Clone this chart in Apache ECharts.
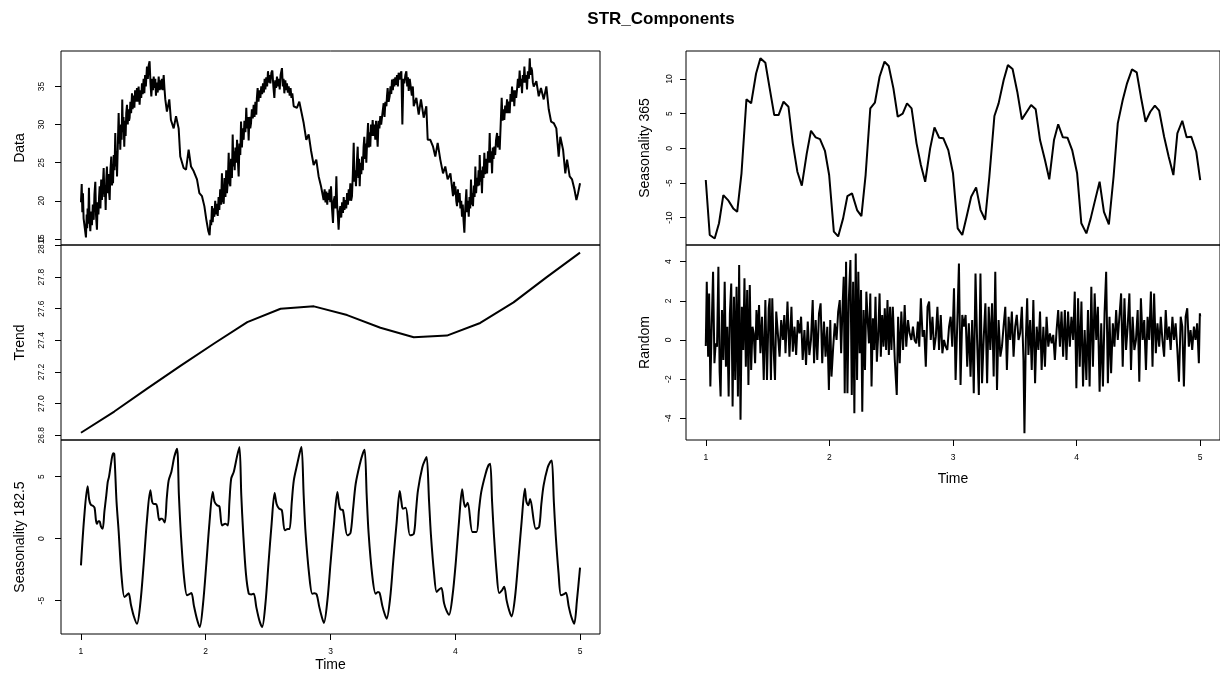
<!DOCTYPE html>
<html>
<head>
<meta charset="utf-8">
<script src="https://cdn.jsdelivr.net/npm/echarts@6/dist/echarts.min.js"></script>
<style>
html,body{margin:0;padding:0;background:#fff;}
#chart{width:1220px;height:682px;}
</style>
</head>
<body>
<div id="chart"></div>
<script>
// ---------- tick labels ----------
const timeTicks = [1, 2, 3, 4, 5];
const dataTicks = [15, 20, 25, 30, 35];
const trendTicks = [26.8, 27.0, 27.2, 27.4, 27.6, 27.8, 28.0];
const seas182Ticks = [-5, 0, 5];
const seas365Ticks = [-10, -5, 0, 5, 10];
const randomTicks = [-4, -2, 0, 2, 4];

// ---------- series values [time, value] ----------
const dataSeries = [
[1.000,19.8],[1.006,22.2],[1.011,18.5],[1.016,21.0],[1.021,17.7],[1.030,16.5],[1.040,15.2],[1.046,18.2],[1.050,16.4],[1.053,19.0],
[1.058,17.0],[1.064,21.7],[1.069,17.5],[1.075,16.0],[1.082,18.6],[1.088,16.8],[1.095,19.5],[1.102,17.5],[1.108,20.8],[1.115,22.5],
[1.121,18.0],[1.128,16.2],[1.134,19.8],[1.140,18.2],[1.145,20.5],[1.150,21.9],[1.156,19.0],[1.162,22.8],[1.168,20.1],[1.175,22.0],
[1.182,24.3],[1.188,20.5],[1.193,22.0],[1.198,18.8],[1.203,22.8],[1.208,24.5],[1.214,21.0],[1.220,23.5],[1.225,21.2],[1.230,20.1],
[1.236,24.0],[1.243,25.8],[1.249,22.0],[1.253,24.8],[1.257,22.3],[1.263,26.0],[1.269,24.0],[1.275,28.9],[1.280,24.5],[1.285,26.5],
[1.289,23.2],[1.295,27.0],[1.302,31.5],[1.308,27.5],[1.312,29.5],[1.315,26.7],[1.321,30.0],[1.326,28.0],[1.331,33.3],[1.336,29.0],
[1.341,31.0],[1.347,27.1],[1.353,30.5],[1.358,28.5],[1.363,31.5],[1.369,32.6],[1.375,30.0],[1.380,32.0],[1.385,30.5],[1.390,30.9],
[1.396,33.0],[1.402,31.5],[1.409,34.1],[1.414,32.0],[1.420,33.8],[1.428,32.2],[1.434,34.5],[1.440,33.0],[1.449,34.8],[1.455,33.0],
[1.462,35.0],[1.470,32.6],[1.476,34.5],[1.483,33.5],[1.489,35.4],[1.495,34.0],[1.502,36.0],[1.508,34.1],[1.514,36.5],[1.520,35.0],
[1.529,37.6],[1.536,36.0],[1.543,37.8],[1.550,38.3],[1.557,35.5],[1.564,33.7],[1.572,36.0],[1.578,34.5],[1.583,36.3],[1.590,34.8],
[1.596,36.0],[1.601,33.8],[1.608,35.5],[1.615,34.2],[1.623,36.3],[1.630,34.5],[1.636,35.8],[1.641,34.6],[1.648,36.0],[1.655,34.5],
[1.663,36.5],[1.669,34.8],[1.676,33.3],[1.689,31.7],[1.708,33.3],[1.721,30.6],[1.743,29.5],[1.762,31.1],[1.783,29.5],[1.796,25.8],
[1.823,24.3],[1.842,24.1],[1.863,26.7],[1.882,24.5],[1.903,23.9],[1.930,22.8],[1.949,21.0],[1.970,20.6],[1.989,19.3],[2.005,17.5],
[2.021,16.0],[2.031,15.5],[2.038,17.5],[2.044,16.8],[2.050,19.3],[2.056,17.2],[2.062,19.0],[2.069,17.9],[2.076,20.0],[2.083,18.2],
[2.090,19.6],[2.096,18.0],[2.103,20.5],[2.109,18.8],[2.116,21.5],[2.123,19.5],[2.130,23.6],[2.137,20.2],[2.144,19.6],[2.151,23.0],
[2.158,20.5],[2.164,24.0],[2.170,21.0],[2.177,22.5],[2.184,26.3],[2.190,22.5],[2.197,21.9],[2.203,25.5],[2.210,23.0],[2.216,28.7],
[2.222,24.5],[2.227,26.5],[2.232,24.0],[2.238,27.0],[2.245,25.0],[2.251,28.0],[2.257,25.5],[2.264,23.2],[2.270,27.5],[2.277,26.0],
[2.283,30.4],[2.290,27.0],[2.297,29.5],[2.304,28.0],[2.310,30.5],[2.318,29.0],[2.325,32.2],[2.331,29.5],[2.338,31.0],[2.344,27.9],
[2.350,31.0],[2.357,29.5],[2.363,30.2],[2.370,32.0],[2.377,30.8],[2.384,32.6],[2.391,31.0],[2.398,33.0],[2.405,31.3],[2.410,33.5],
[2.416,34.8],[2.423,33.0],[2.430,34.5],[2.438,33.5],[2.445,35.0],[2.452,34.0],[2.459,35.4],[2.466,34.2],[2.472,36.0],[2.478,34.6],
[2.485,36.2],[2.492,35.0],[2.499,37.0],[2.506,35.5],[2.512,36.5],[2.518,35.4],[2.526,36.8],[2.534,37.1],[2.542,35.0],[2.550,33.5],
[2.557,35.8],[2.564,34.8],[2.571,36.3],[2.578,35.0],[2.586,36.0],[2.593,34.6],[2.600,36.5],[2.611,37.4],[2.618,35.0],[2.624,36.0],
[2.630,34.1],[2.638,35.8],[2.645,34.5],[2.651,35.4],[2.658,34.2],[2.665,35.0],[2.673,33.8],[2.680,34.8],[2.687,33.5],[2.694,34.1],
[2.705,32.4],[2.731,32.2],[2.750,33.0],[2.785,30.2],[2.806,28.0],[2.825,28.7],[2.844,26.6],[2.865,24.7],[2.886,25.4],[2.905,23.2],
[2.924,21.9],[2.945,20.1],[2.953,21.5],[2.960,19.8],[2.967,21.2],[2.974,19.5],[2.980,21.0],[2.985,20.1],[2.992,21.5],[2.998,19.8],
[3.004,21.9],[3.012,19.0],[3.020,17.1],[3.026,20.0],[3.033,20.6],[3.040,19.0],[3.047,23.2],[3.053,19.5],[3.059,18.0],[3.065,16.2],
[3.072,18.5],[3.079,19.3],[3.086,17.8],[3.093,19.8],[3.100,18.4],[3.106,20.5],[3.112,18.8],[3.119,20.1],[3.126,19.0],[3.133,21.0],
[3.140,19.5],[3.146,21.5],[3.152,20.0],[3.159,22.3],[3.165,20.0],[3.172,20.6],[3.179,23.5],[3.186,27.6],[3.192,22.5],[3.198,24.0],
[3.204,21.9],[3.211,25.0],[3.218,27.1],[3.224,23.0],[3.229,25.5],[3.234,21.9],[3.240,25.0],[3.247,23.5],[3.253,25.8],[3.259,24.0],
[3.265,27.0],[3.271,28.4],[3.277,25.5],[3.282,27.5],[3.287,25.0],[3.294,28.0],[3.301,30.2],[3.307,27.0],[3.313,29.0],[3.319,27.1],
[3.325,30.0],[3.331,28.5],[3.338,30.6],[3.345,28.5],[3.352,30.0],[3.359,28.0],[3.365,30.5],[3.372,29.0],[3.378,27.1],[3.385,30.5],
[3.392,29.5],[3.399,31.1],[3.406,30.0],[3.413,29.8],[3.420,32.0],[3.426,32.8],[3.433,31.0],[3.440,33.0],[3.448,32.4],[3.453,33.8],
[3.458,34.8],[3.466,33.0],[3.474,33.7],[3.481,35.0],[3.487,34.0],[3.493,35.9],[3.500,34.5],[3.506,36.0],[3.512,35.0],[3.519,36.2],
[3.526,35.2],[3.533,36.5],[3.540,35.0],[3.546,36.8],[3.552,35.9],[3.560,36.5],[3.568,37.0],[3.576,30.0],[3.584,36.0],[3.592,35.4],
[3.600,36.5],[3.608,37.0],[3.615,35.0],[3.621,36.2],[3.627,34.4],[3.635,36.0],[3.645,35.9],[3.652,33.8],[3.660,35.0],[3.667,32.4],
[3.688,33.5],[3.707,31.3],[3.725,33.3],[3.747,30.9],[3.768,32.4],[3.779,28.0],[3.800,28.0],[3.822,27.1],[3.840,25.8],[3.859,27.6],
[3.880,25.4],[3.902,23.6],[3.920,24.5],[3.939,22.8],[3.961,23.6],[3.982,20.6],[3.990,22.5],[3.995,20.8],[4.001,21.9],[4.008,20.0],
[4.014,19.3],[4.021,21.5],[4.028,19.8],[4.035,21.0],[4.041,19.0],[4.048,20.0],[4.054,17.9],[4.060,19.5],[4.066,17.5],[4.073,15.8],
[4.080,19.0],[4.089,21.5],[4.095,18.5],[4.101,20.0],[4.108,17.9],[4.114,20.5],[4.120,19.0],[4.126,22.8],[4.132,19.5],[4.137,21.0],
[4.142,19.3],[4.149,22.0],[4.155,20.5],[4.161,24.5],[4.167,21.0],[4.174,23.0],[4.180,21.9],[4.187,24.0],[4.192,22.0],[4.196,26.0],
[4.202,22.5],[4.208,24.0],[4.214,21.0],[4.220,24.5],[4.227,23.0],[4.233,26.3],[4.240,23.5],[4.247,25.5],[4.255,23.6],[4.262,26.5],
[4.269,25.0],[4.276,28.9],[4.282,25.0],[4.288,26.5],[4.295,23.6],[4.301,27.0],[4.307,25.5],[4.313,27.1],[4.320,26.0],[4.327,28.0],
[4.335,28.9],[4.342,27.0],[4.349,28.5],[4.356,26.7],[4.364,30.0],[4.372,33.5],[4.379,30.5],[4.386,32.0],[4.393,30.6],[4.400,32.5],
[4.407,31.5],[4.415,33.3],[4.422,31.5],[4.429,33.0],[4.436,31.5],[4.443,34.0],[4.449,33.0],[4.455,35.0],[4.462,33.0],[4.468,34.5],
[4.473,32.4],[4.480,34.5],[4.488,33.5],[4.495,34.6],[4.502,36.0],[4.509,34.8],[4.516,37.1],[4.523,35.0],[4.529,36.0],[4.535,34.1],
[4.541,36.5],[4.548,35.5],[4.554,37.6],[4.561,35.5],[4.568,36.5],[4.575,34.6],[4.582,37.0],[4.590,36.0],[4.597,38.7],[4.603,36.5],
[4.609,37.5],[4.615,37.1],[4.622,35.5],[4.629,35.0],[4.650,35.7],[4.669,33.7],[4.687,34.8],[4.709,33.3],[4.730,35.0],[4.749,32.0],
[4.768,30.4],[4.789,30.2],[4.810,29.5],[4.829,25.8],[4.842,28.4],[4.864,26.7],[4.882,23.6],[4.896,25.4],[4.917,23.2],[4.936,22.8],
[4.955,21.5],[4.971,20.1],[4.984,21.0],[5.000,22.3]
];

const trendTime = [1.000, 1.267, 1.533, 1.800, 2.067, 2.333, 2.600, 2.867, 3.133, 3.400, 3.667, 3.933, 4.200, 4.467, 4.733, 5.000];
const trendValue = [26.816, 26.95, 27.096, 27.24, 27.38, 27.515, 27.60, 27.615, 27.56, 27.48, 27.42, 27.43, 27.51, 27.64, 27.80, 27.955];

const seas182Series = [
[1.000,-2.15],[1.025,1.6],[1.053,4.22],[1.065,3.2],[1.078,2.75],[1.095,2.65],[1.109,2.5],[1.120,1.5],[1.128,1.2],[1.140,1.4],[1.149,1.4],[1.160,1.0],[1.174,0.8],[1.188,2.2],[1.203,3.5],[1.215,4.6],[1.225,5.0],[1.243,6.2],[1.258,6.9],[1.267,6.85],[1.285,3.0],[1.302,0.6],[1.325,-3.0],[1.348,-4.7],[1.362,-4.6],[1.382,-4.4],[1.400,-5.3],[1.425,-6.3],[1.449,-6.86],
[1.476,-5.2],[1.503,-2.0],[1.529,1.5],[1.556,3.9],[1.570,3.0],[1.583,2.8],[1.600,2.8],[1.610,2.6],[1.628,1.48],[1.640,1.6],[1.650,1.6],[1.671,1.3],[1.688,3.3],[1.703,4.7],[1.725,5.4],[1.748,6.6],[1.770,7.26],[1.785,3.5],[1.800,0.5],[1.825,-3.0],[1.850,-4.57],[1.865,-4.5],[1.885,-4.38],[1.905,-5.4],[1.930,-6.5],[1.952,-7.13],
[1.978,-5.3],[2.005,-2.0],[2.030,1.3],[2.056,3.76],[2.070,3.0],[2.091,2.69],[2.110,2.6],[2.131,1.07],[2.158,1.2],[2.177,1.07],[2.190,3.0],[2.204,4.84],[2.225,5.4],[2.250,6.6],[2.270,7.39],[2.285,3.5],[2.300,0.5],[2.322,-2.8],[2.345,-4.44],[2.365,-4.5],[2.385,-4.44],[2.405,-5.5],[2.430,-6.6],[2.452,-7.13],
[2.478,-5.3],[2.503,-2.0],[2.528,1.2],[2.552,3.68],[2.568,2.8],[2.588,2.42],[2.610,2.3],[2.634,0.67],[2.658,0.78],[2.672,0.78],[2.690,3.0],[2.706,4.7],[2.733,6.0],[2.755,7.0],[2.768,7.39],[2.785,3.5],[2.800,0.5],[2.830,-3.0],[2.854,-4.44],[2.870,-4.4],[2.889,-4.5],[2.910,-5.5],[2.930,-6.3],[2.947,-6.8],
[2.975,-5.0],[3.000,-2.0],[3.028,1.2],[3.055,3.76],[3.068,2.8],[3.080,2.36],[3.100,2.3],[3.135,0.27],[3.160,0.45],[3.180,2.3],[3.202,4.43],[3.236,6.05],[3.260,6.9],[3.274,7.18],[3.290,3.5],[3.305,0.5],[3.335,-3.0],[3.362,-4.44],[3.380,-4.3],[3.394,-4.38],[3.415,-5.4],[3.435,-6.1],[3.450,-6.45],
[3.478,-4.8],[3.503,-1.8],[3.530,1.3],[3.555,3.84],[3.568,3.0],[3.580,2.42],[3.603,2.5],[3.637,0.27],[3.668,0.4],[3.685,2.2],[3.701,3.9],[3.736,5.77],[3.760,6.4],[3.771,6.58],[3.790,3.0],[3.805,0.3],[3.830,-2.8],[3.851,-4.3],[3.870,-4.1],[3.889,-3.98],[3.910,-5.2],[3.930,-5.8],[3.950,-6.13],
[3.978,-4.6],[4.005,-1.8],[4.030,1.4],[4.055,3.98],[4.068,3.0],[4.080,2.56],[4.100,2.9],[4.138,0.54],[4.170,0.54],[4.190,2.3],[4.208,3.76],[4.243,5.24],[4.265,5.9],[4.280,6.05],[4.295,3.0],[4.310,0.3],[4.332,-2.8],[4.352,-4.38],[4.372,-4.2],[4.392,-3.87],[4.412,-5.0],[4.432,-5.8],[4.451,-6.27],
[4.478,-4.8],[4.505,-1.8],[4.532,1.4],[4.558,4.03],[4.570,3.0],[4.585,2.7],[4.600,3.2],[4.646,0.8],[4.672,0.94],[4.690,2.8],[4.708,4.3],[4.740,5.72],[4.762,6.2],[4.774,6.31],[4.790,3.0],[4.805,0.3],[4.828,-2.8],[4.847,-4.57],[4.867,-4.5],[4.887,-4.36],[4.910,-5.5],[4.930,-6.3],[4.953,-6.86],[4.975,-5.0],[5.000,-2.34]
];

const seas365Series = [
[1.000,-4.57],[1.032,-12.5],[1.072,-13.0],[1.107,-10.8],[1.142,-6.74],[1.180,-7.46],[1.222,-8.66],[1.254,-9.15],[1.289,-3.6],[1.329,7.07],
[1.367,6.49],[1.407,10.8],[1.442,13.0],[1.482,12.35],[1.517,8.65],[1.554,4.8],[1.589,4.8],[1.629,6.73],[1.669,6.0],[1.704,0.72],
[1.741,-3.37],[1.777,-5.39],[1.817,-0.72],[1.851,2.54],[1.889,1.59],[1.924,1.34],[1.964,-0.35],[1.998,-3.85],[2.036,-12.0],[2.071,-12.7],
[2.111,-10.1],[2.146,-6.88],[2.183,-6.5],[2.224,-8.9],[2.259,-9.77],[2.293,-3.85],[2.331,5.77],[2.368,6.58],[2.406,10.33],[2.446,12.5],
[2.480,11.88],[2.518,8.65],[2.553,4.56],[2.593,5.0],[2.628,6.49],[2.665,5.77],[2.705,0.72],[2.740,-2.4],[2.775,-4.82],[2.815,0.0],
[2.850,3.03],[2.888,1.53],[2.922,1.44],[2.962,-0.25],[3.000,-3.6],[3.038,-11.54],[3.075,-12.5],[3.110,-9.87],[3.147,-6.98],[3.187,-5.63],
[3.223,-8.9],[3.260,-10.3],[3.294,-4.1],[3.335,4.66],[3.369,6.49],[3.410,9.86],[3.444,12.0],[3.482,11.44],[3.520,8.17],[3.557,4.18],
[3.597,5.28],[3.632,6.25],[3.669,5.63],[3.704,1.2],[3.744,-1.69],[3.779,-4.47],[3.817,1.2],[3.851,3.46],[3.889,1.59],[3.926,1.54],
[3.964,-0.25],[4.004,-3.6],[4.038,-10.8],[4.079,-12.27],[4.114,-10.1],[4.151,-7.36],[4.186,-4.82],[4.221,-9.15],[4.261,-10.97],[4.299,-4.1],
[4.333,3.6],[4.373,6.97],[4.408,9.38],[4.448,11.4],[4.486,10.97],[4.520,7.45],[4.558,3.84],[4.596,5.28],[4.633,6.15],[4.668,5.43],
[4.708,1.67],[4.745,-1.21],[4.783,-3.85],[4.815,2.16],[4.855,3.98],[4.890,1.59],[4.928,1.67],[4.968,-0.49],[5.000,-4.57]
];

const randomSeries = [
[1.000,-0.31],[1.008,2.98],[1.019,-0.85],[1.027,2.38],[1.037,-2.38],[1.048,0.77],[1.059,3.49],[1.070,-1.19],[1.080,-0.17],[1.091,-0.34],
[1.102,3.74],[1.112,-1.62],[1.120,-2.89],[1.131,1.53],[1.142,-1.02],[1.153,2.98],[1.163,-1.36],[1.174,0.68],[1.185,-2.89],[1.195,1.36],
[1.206,2.89],[1.217,-3.40],[1.228,2.21],[1.238,-2.04],[1.249,2.72],[1.260,-2.89],[1.270,3.83],[1.281,-4.08],[1.292,1.70],[1.303,-0.51],
[1.313,3.15],[1.324,-1.36],[1.335,2.55],[1.345,-2.30],[1.356,2.81],[1.367,-1.53],[1.378,0.68],[1.388,0.34],[1.399,-1.19],[1.410,1.53],
[1.420,0.0],[1.431,1.79],[1.442,-0.68],[1.455,1.19],[1.469,-2.04],[1.482,2.04],[1.495,-2.04],[1.509,1.62],[1.517,2.13],[1.527,-2.04],
[1.538,2.13],[1.549,-0.51],[1.560,-2.04],[1.570,1.45],[1.584,1.45],[1.597,-0.85],[1.610,1.02],[1.624,0.0],[1.635,1.28],[1.645,-0.68],
[1.661,1.96],[1.677,-0.85],[1.693,1.70],[1.704,-0.60],[1.718,0.68],[1.731,-0.77],[1.744,1.02],[1.758,0.34],[1.771,1.19],[1.784,-1.02],
[1.798,0.51],[1.811,-1.28],[1.825,0.94],[1.838,-0.77],[1.851,0.0],[1.865,2.04],[1.876,-1.19],[1.889,1.02],[1.902,-1.02],[1.916,1.36],
[1.929,1.87],[1.942,-1.19],[1.956,0.94],[1.969,-0.85],[1.983,0.68],[1.996,-2.55],[2.007,1.02],[2.017,-1.87],[2.031,-0.34],[2.044,0.85],
[2.058,0.0],[2.071,1.45],[2.084,2.04],[2.095,-0.68],[2.106,1.62],[2.116,3.23],[2.124,-2.72],[2.135,4.0],[2.146,-2.72],[2.157,2.04],
[2.170,4.08],[2.181,-2.81],[2.192,2.98],[2.202,-3.74],[2.213,4.42],[2.224,-2.04],[2.234,3.49],[2.245,-0.68],[2.256,2.55],[2.266,-3.66],
[2.277,1.53],[2.288,-1.53],[2.299,2.47],[2.309,1.11],[2.320,-0.17],[2.331,2.38],[2.341,-2.38],[2.352,1.11],[2.363,-0.51],[2.373,2.21],
[2.384,-1.11],[2.395,0.26],[2.406,2.38],[2.416,-0.85],[2.427,1.28],[2.438,-0.34],[2.448,1.62],[2.459,-0.51],[2.470,2.04],[2.481,-0.77],
[2.491,1.70],[2.502,-0.51],[2.513,1.70],[2.529,-1.02],[2.545,-2.81],[2.556,1.19],[2.569,-1.19],[2.582,1.45],[2.596,-0.51],[2.609,1.79],
[2.622,-0.34],[2.636,1.02],[2.649,0.34],[2.663,0.0],[2.676,0.68],[2.689,0.0],[2.703,-0.17],[2.716,0.94],[2.727,-0.34],[2.740,2.13],
[2.754,0.17],[2.767,0.51],[2.780,-1.36],[2.794,1.70],[2.807,1.96],[2.820,0.0],[2.834,1.19],[2.847,-0.51],[2.861,0.17],[2.874,1.70],
[2.887,-0.51],[2.901,1.28],[2.914,-0.68],[2.927,0.0],[2.941,-0.34],[2.954,-0.51],[2.968,0.68],[2.981,1.19],[2.994,-0.34],[3.008,2.64],
[3.021,-2.04],[3.035,0.94],[3.048,3.91],[3.061,-2.30],[3.075,1.28],[3.088,0.68],[3.102,1.28],[3.115,-1.36],[3.128,0.85],[3.142,-1.87],
[3.155,1.02],[3.168,-2.72],[3.182,3.40],[3.195,0.0],[3.209,-2.81],[3.222,3.40],[3.235,-2.21],[3.249,0.17],[3.262,1.87],[3.276,-2.21],
[3.289,1.70],[3.302,-0.51],[3.316,1.87],[3.329,-1.87],[3.342,3.49],[3.356,-2.55],[3.369,1.02],[3.383,-0.85],[3.396,-0.34],[3.409,0.68],
[3.423,1.70],[3.436,-1.53],[3.450,1.19],[3.463,0.0],[3.476,1.45],[3.490,-0.85],[3.503,0.68],[3.516,1.28],[3.530,0.0],[3.543,0.34],
[3.557,1.70],[3.570,-1.02],[3.578,-4.76],[3.589,0.0],[3.600,2.13],[3.610,-0.77],[3.624,1.02],[3.637,-1.53],[3.650,2.04],[3.664,-2.21],
[3.677,0.68],[3.691,-0.51],[3.704,1.45],[3.717,-1.53],[3.731,0.68],[3.744,-1.36],[3.757,1.19],[3.771,-0.34],[3.784,0.34],[3.798,-0.17],
[3.811,0.26],[3.824,-1.02],[3.838,0.51],[3.851,1.53],[3.865,-0.34],[3.878,1.45],[3.891,-0.85],[3.905,1.53],[3.918,-1.02],[3.931,1.45],
[3.945,-0.34],[3.958,1.19],[3.972,0.0],[3.985,2.47],[3.998,-2.47],[4.012,2.13],[4.025,-1.36],[4.039,1.96],[4.052,-2.38],[4.065,0.51],
[4.079,-2.04],[4.092,1.53],[4.105,-2.38],[4.119,2.72],[4.132,-1.36],[4.146,2.38],[4.159,0.0],[4.172,1.70],[4.186,-2.64],[4.199,0.85],
[4.213,-2.38],[4.226,1.36],[4.239,3.49],[4.253,-2.21],[4.266,1.19],[4.279,-1.70],[4.293,0.85],[4.306,-0.34],[4.320,1.53],[4.333,0.0],
[4.346,1.19],[4.360,2.38],[4.373,-1.36],[4.387,2.13],[4.400,-0.51],[4.413,0.68],[4.427,2.38],[4.440,-1.53],[4.453,1.19],[4.467,-0.51],
[4.480,0.0],[4.494,1.53],[4.507,-2.13],[4.520,2.13],[4.534,0.0],[4.547,1.02],[4.561,-1.53],[4.574,1.19],[4.587,0.0],[4.601,2.47],
[4.614,-1.36],[4.627,2.38],[4.641,-0.68],[4.654,0.85],[4.668,-0.34],[4.681,1.19],[4.694,0.0],[4.708,-0.85],[4.721,1.53],[4.734,0.0],
[4.748,0.68],[4.761,-0.51],[4.775,1.19],[4.788,0.0],[4.801,0.85],[4.815,-0.51],[4.828,-2.13],[4.842,1.19],[4.855,0.68],[4.868,-2.38],
[4.882,1.19],[4.895,1.62],[4.908,-0.34],[4.922,0.51],[4.935,-0.51],[4.949,0.68],[4.962,0.0],[4.975,0.85],[4.989,-1.19],[4.997,1.36],
[5.000,1.19]
];

// ---------- chart ----------
const FONT = '"Liberation Sans", Arial, Helvetica, sans-serif';
const X_MIN = 0.84, X_MAX = 5.16;

function xAxisFor(gridIndex, show, nameGap) {
  return {
    gridIndex: gridIndex, type: 'value', min: X_MIN, max: X_MAX,
    axisLine: { show: false, onZero: false }, splitLine: { show: false },
    axisTick: { show: show, length: 6, customValues: timeTicks, lineStyle: { color: '#000', width: 1 } },
    axisLabel: { show: show, customValues: timeTicks, margin: 13, fontSize: 8.5, color: '#000', fontFamily: FONT },
    name: show ? 'Time' : '', nameLocation: 'middle', nameGap: nameGap || 25,
    nameTextStyle: { fontSize: 14, color: '#000', fontFamily: FONT }
  };
}
function yAxisFor(gridIndex, name, min, max, ticks, margin, fmt) {
  return {
    gridIndex: gridIndex, type: 'value', min: min, max: max,
    axisLine: { show: false, onZero: false }, splitLine: { show: false },
    axisTick: { show: true, length: 6, customValues: ticks, lineStyle: { color: '#000', width: 1 } },
    axisLabel: { customValues: ticks, rotate: 90, margin: margin, fontSize: 8.5, color: '#000', fontFamily: FONT,
                 formatter: fmt || function (v) { return String(v); } },
    name: name, nameLocation: 'middle', nameRotate: 90, nameGap: 34,
    nameTextStyle: { fontSize: 14, color: '#000', fontFamily: FONT }
  };
}
function lineSeries(idx, data, width, smooth) {
  return {
    type: 'line', xAxisIndex: idx, yAxisIndex: idx, data: data, showSymbol: false, symbol: 'none',
    smooth: smooth || false, lineStyle: { color: '#000', width: width }, silent: true, clip: true
  };
}
const gridBase = { show: true, borderColor: '#000', borderWidth: 1, backgroundColor: 'transparent', containLabel: false };

const trendSeries = trendTime.map(function (t, i) { return [t, trendValue[i]]; });

const option = {
  animation: false,
  backgroundColor: '#fff',
  title: {
    text: 'STR_Components', left: 656, textAlign: 'center', top: 6,
    textStyle: { fontSize: 17, fontWeight: 'bold', color: '#000', fontFamily: FONT }
  },
  grid: [
    Object.assign({ left: 61, top: 51, width: 539, height: 194 }, gridBase),
    Object.assign({ left: 61, top: 245, width: 539, height: 195 }, gridBase),
    Object.assign({ left: 61, top: 440, width: 539, height: 194 }, gridBase),
    Object.assign({ left: 686, top: 51, width: 537, height: 194 }, gridBase),
    Object.assign({ left: 686, top: 245, width: 537, height: 195 }, gridBase)
  ],
  xAxis: [
    xAxisFor(0, false), xAxisFor(1, false), xAxisFor(2, true, 24),
    xAxisFor(3, false), xAxisFor(4, true, 32)
  ],
  yAxis: [
    yAxisFor(0, 'Data', 14.2, 39.65, dataTicks, 15),
    yAxisFor(1, 'Trend', 26.77, 28.003, trendTicks, 15, function (v) { return v.toFixed(1); }),
    yAxisFor(2, 'Seasonality 182.5', -7.69, 7.96, seas182Ticks, 15),
    yAxisFor(3, 'Seasonality 365', -13.94, 14.04, seas365Ticks, 12),
    yAxisFor(4, 'Random', -5.109, 4.853, randomTicks, 13)
  ],
  series: [
    lineSeries(0, dataSeries, 2),
    lineSeries(1, trendSeries, 2),
    lineSeries(2, seas182Series, 2, 0.3),
    lineSeries(3, seas365Series, 2),
    lineSeries(4, randomSeries, 2)
  ]
};

const chart = echarts.init(document.getElementById('chart'), null, { renderer: 'canvas' });
chart.setOption(option);
</script>
</body>
</html>
